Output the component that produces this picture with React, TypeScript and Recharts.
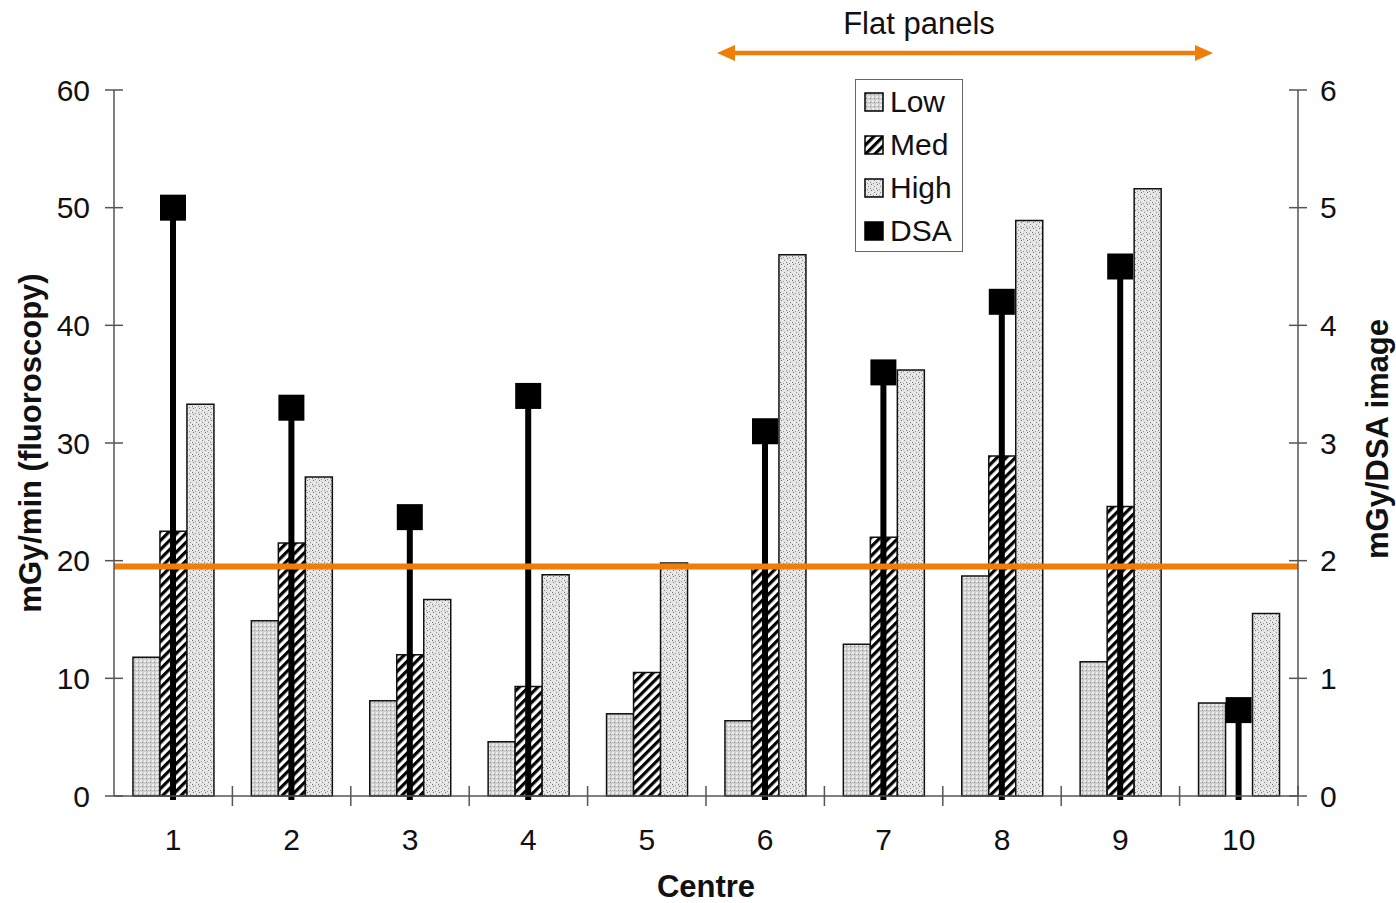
import React from 'react';
import { ComposedChart, Bar, XAxis, YAxis, ReferenceLine, Legend } from 'recharts';

const centres = ['1', '2', '3', '4', '5', '6', '7', '8', '9', '10'];
const lowValues = [11.8, 14.9, 8.1, 4.6, 7.0, 6.4, 12.9, 18.7, 11.4, 7.9];
const medValues = [22.5, 21.5, 12.0, 9.3, 10.5, 19.6, 22.0, 28.9, 24.6, null];
const highValues = [33.3, 27.1, 16.7, 18.8, 19.8, 46.0, 36.2, 48.9, 51.6, 15.5];
const dsaValues = [5.0, 3.3, 2.37, 3.4, null, 3.1, 3.6, 4.2, 4.5, 0.73];
const leftTicks = [0, 10, 20, 30, 40, 50, 60];
const rightTicks = [0, 1, 2, 3, 4, 5, 6];
const thresholdLeft = 19.5;

const data = centres.map((c, i) => ({
  centre: c,
  Low: lowValues[i],
  Med: medValues[i],
  High: highValues[i],
  DSA: dsaValues[i],
}));

const FONT = 'Liberation Sans, Arial, Helvetica, sans-serif';
const ORANGE = '#EF7D0A';
const AXIS = '#555';
const TICK_FS = 30;
const TITLE_FS = 31;

const LeftTick = (props: any) => {
  const { x, y, payload } = props;
  return (
    <g>
      <line x1={x - 9} x2={x + 9} y1={y} y2={y} stroke={AXIS} strokeWidth={1.5} />
      <text x={x - 24} y={y} dy="0.36em" textAnchor="end" fontSize={TICK_FS} fontFamily={FONT} fill="#111">
        {payload.value}
      </text>
    </g>
  );
};

const RightTick = (props: any) => {
  const { x, y, payload } = props;
  return (
    <g>
      <line x1={x - 9} x2={x + 9} y1={y} y2={y} stroke={AXIS} strokeWidth={1.5} />
      <text x={x + 22} y={y} dy="0.36em" textAnchor="start" fontSize={TICK_FS} fontFamily={FONT} fill="#111">
        {payload.value}
      </text>
    </g>
  );
};

const BottomTick = (props: any) => {
  const { x, y, payload } = props;
  const half = payload.offset || 0;
  return (
    <g>
      <line x1={x + half} x2={x + half} y1={y - 10} y2={y + 10} stroke={AXIS} strokeWidth={1.5} />
      <text x={x} y={y + 54} textAnchor="middle" fontSize={TICK_FS} fontFamily={FONT} fill="#111">
        {payload.value}
      </text>
    </g>
  );
};

const DsaShape = (props: any) => {
  const { x, y, width, height, value } = props;
  if (value == null || height == null) return null;
  const cx = x + width / 2;
  return (
    <g>
      <rect x={cx - 3} y={y} width={6} height={height + 4} fill="#000" />
      <rect x={cx - 13} y={y - 13} width={26} height={26} fill="#000" />
    </g>
  );
};

const legendItems = [
  { name: 'Low', fill: 'url(#patLow)' },
  { name: 'Med', fill: 'url(#patMed)' },
  { name: 'High', fill: 'url(#patHigh)' },
  { name: 'DSA', fill: '#000' },
];

const LegendBox = () => (
  <div
    style={{
      width: 108,
      height: 173,
      border: '1.5px solid #666',
      background: '#fff',
      boxSizing: 'border-box',
      paddingTop: 0,
      fontFamily: FONT,
    }}
  >
    {legendItems.map((it) => (
      <div key={it.name} style={{ display: 'flex', alignItems: 'center', height: 43, paddingLeft: 8 }}>
        <svg width={20} height={20} style={{ marginRight: 6 }}>
          <rect x={1} y={1} width={18} height={18} fill={it.fill} stroke="#000" strokeWidth={1.5} />
        </svg>
        <span style={{ fontSize: 30, color: '#111', lineHeight: '30px' }}>{it.name}</span>
      </div>
    ))}
  </div>
);

export default function App() {
  return (
    <div style={{ position: 'absolute', left: 0, top: 0, width: 1396, height: 903, background: '#fff' }}>
      <ComposedChart
        width={1396}
        height={903}
        data={data}
        margin={{ top: 90, right: 0, bottom: 0, left: 0 }}
        barCategoryGap="16%"
        barGap={0}
      >
        <defs>
          <pattern id="patLow" width={4} height={4} patternUnits="userSpaceOnUse">
            <rect width={4} height={4} fill="#cfcfcf" />
            <rect x={0} y={0} width={2} height={2} fill="#ececec" />
            <rect x={2} y={2} width={1} height={1} fill="#8a8a8a" />
          </pattern>
          <pattern id="patMed" width={6.5} height={6.5} patternUnits="userSpaceOnUse" patternTransform="rotate(45)">
            <rect width={6.5} height={6.5} fill="#fff" />
            <rect x={0} y={0} width={3.2} height={6.5} fill="#000" />
          </pattern>
          <pattern id="patHigh" width={6} height={6} patternUnits="userSpaceOnUse">
            <rect width={6} height={6} fill="#e4e4e4" />
            <rect x={1} y={0} width={1} height={1} fill="#777" />
            <rect x={4} y={2} width={1} height={1} fill="#888" />
            <rect x={0} y={4} width={1} height={1} fill="#777" />
            <rect x={3} y={5} width={1} height={1} fill="#999" />
            <rect x={2} y={2} width={1} height={1} fill="#fff" />
            <rect x={5} y={4} width={1} height={1} fill="#fff" />
          </pattern>
        </defs>
        <XAxis
          dataKey="centre"
          height={107}
          tickSize={0}
          tickMargin={0}
          tickLine={false}
          axisLine={{ stroke: AXIS, strokeWidth: 1.5 }}
          tick={<BottomTick />}
          interval={0}
          label={{
            value: 'Centre',
            position: 'insideBottom',
            offset: 6,
            style: { fontSize: TITLE_FS, fontWeight: 'bold', fontFamily: FONT, fill: '#111' },
          }}
        />
        <XAxis xAxisId="dsa" dataKey="centre" hide />
        <YAxis
          yAxisId="left"
          width={114}
          domain={[0, 60]}
          ticks={leftTicks}
          tickSize={0}
          tickMargin={0}
          tickLine={false}
          axisLine={{ stroke: AXIS, strokeWidth: 1.5 }}
          tick={<LeftTick />}
          interval={0}
          label={{
            value: 'mGy/min (fluoroscopy)',
            angle: -90,
            position: 'insideLeft',
            offset: 30,
            style: { textAnchor: 'middle', fontSize: TITLE_FS, fontWeight: 'bold', fontFamily: FONT, fill: '#111' },
          }}
        />
        <YAxis
          yAxisId="right"
          orientation="right"
          width={98}
          domain={[0, 6]}
          ticks={rightTicks}
          tickSize={0}
          tickMargin={0}
          tickLine={false}
          axisLine={{ stroke: AXIS, strokeWidth: 1.5 }}
          tick={<RightTick />}
          interval={0}
          label={{
            value: 'mGy/DSA image',
            angle: -90,
            position: 'insideRight',
            offset: 19,
            dy: -4,
            style: { textAnchor: 'middle', fontSize: TITLE_FS, fontWeight: 'bold', fontFamily: FONT, fill: '#111' },
          }}
        />
        <Legend
          layout="vertical"
          align="center"
          verticalAlign="middle"
          content={() => <LegendBox />}
          wrapperStyle={{ position: 'absolute', left: 855, top: 79, width: 108, height: 173 }}
        />
        <Bar yAxisId="left" dataKey="Low" fill="url(#patLow)" stroke="#111" strokeWidth={1.5} isAnimationActive={false} />
        <Bar yAxisId="left" dataKey="Med" fill="url(#patMed)" stroke="#111" strokeWidth={1.5} isAnimationActive={false} />
        <Bar yAxisId="left" dataKey="High" fill="url(#patHigh)" stroke="#111" strokeWidth={1.5} isAnimationActive={false} />
        <Bar
          xAxisId="dsa"
          yAxisId="right"
          dataKey="DSA"
          barSize={26}
          fill="#000"
          shape={<DsaShape />}
          isAnimationActive={false}
        />
        <ReferenceLine yAxisId="left" y={thresholdLeft} stroke={ORANGE} strokeWidth={6} />
      </ComposedChart>
      <svg
        width={1396}
        height={80}
        style={{ position: 'absolute', left: 0, top: 0, pointerEvents: 'none' }}
      >
        <text x={919} y={34} textAnchor="middle" fontSize={31} fontFamily={FONT} fill="#111">
          Flat panels
        </text>
        <line x1={730} x2={1200} y1={53} y2={53} stroke={ORANGE} strokeWidth={4.5} />
        <polygon points="717,53 735,45 735,61" fill={ORANGE} />
        <polygon points="1213,53 1195,45 1195,61" fill={ORANGE} />
      </svg>
    </div>
  );
}
